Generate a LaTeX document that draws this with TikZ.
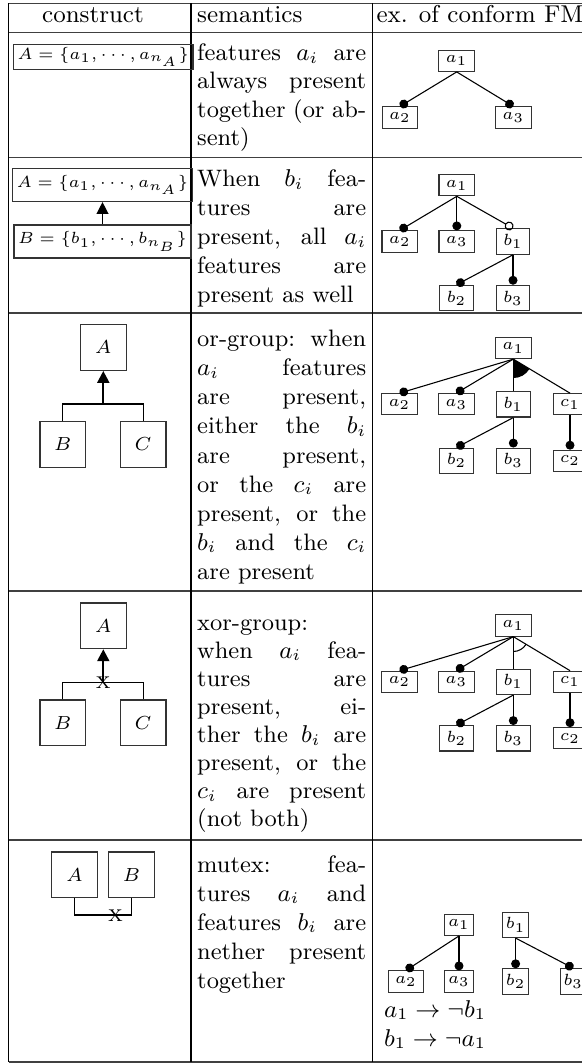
\documentclass[tikz,border=0pt]{standalone}
\usetikzlibrary{arrows.meta}
\newcommand{\jline}[3]{\node[txt] (#1) at (196.7,#2) {\makebox[62.5pt][s]{#3}};}
\newcommand{\lline}[3]{\node[txt] (#1) at (196.7,#2) {#3};}
\begin{document}
\begin{tikzpicture}[x=0.37pt,y=-0.37pt,
  rv/.style={draw=black, line width=0.45pt},
  rh/.style={draw=black!75, line width=0.45pt},
  txt/.style={anchor=base west, inner sep=0pt, font=\fontsize{8.8}{10.6}\selectfont},
  hd/.style={inner sep=0pt, font=\fontsize{9}{11}\selectfont},
  tn/.style={draw=black!80, line width=0.4pt, font=\fontsize{6.5}{7}\selectfont, inner xsep=2.6pt, inner ysep=2.05pt},
  tns/.style={tn, inner xsep=1.3pt},
  setbox/.style={draw=black!80, line width=0.45pt, font=\fontsize{6.1}{7.3}\selectfont, inner xsep=1.5pt, inner ysep=1pt},
  setboxb/.style={setbox, inner ysep=2.5pt},
  sq/.style={draw=black!80, line width=0.45pt, minimum size=16.9pt, inner sep=0pt, font=\fontsize{6.8}{8}\selectfont},
  dot/.style={-{Circle[length=3.3pt]}, line width=0.4pt},
  odot/.style={-{Circle[open,length=3.3pt]}, line width=0.4pt},
  pl/.style={line width=0.4pt},
  tri/.style={-{Triangle[length=4.4pt,width=4.4pt]}},
  xl/.style={inner sep=0pt, font=\fontsize{6.3}{7}\selectfont}
]
\useasboundingbox (0,0) rectangle (582,1064);
% table rules
\foreach \yy in {3.5,32.3,157.7,313,591,840,1062} \draw[rh] (8.5,\yy) -- (582,\yy);
\foreach \xx in {8.5,191,372.3} \draw[rv] (\xx,3.5) -- (\xx,1062);
% header
\node[hd, anchor=base] (h1) at (93,23) {construct};
\node[hd, anchor=base west] (h2) at (196.7,23) {semantics};
\node[hd, anchor=base west] (h3) at (376,23) {ex. of conform FM};
% ---- column 1 ----
\node[setbox] (c1set) at (103.3,56.7) {$A=\{a_1,\cdots,a_{n_A}\}$};
\node[setboxb] (c2A) at (102.5,185) {$A=\{a_1,\cdots,a_{n_A}\}$};
\node[setboxb] (c2B) at (102.5,241.5) {$B=\{b_1,\cdots,b_{n_B}\}$};
\draw[tri, line width=0.5pt] (c2B) -- (c2A);
% row 3
\node[sq] (c3A) at (103.3,347.5) {$A$};
\node[sq] (c3B) at (62.85,444.5) {$B$};
\node[sq] (c3C) at (143.15,444.5) {$C$};
\coordinate (c3j) at (103.3,404);
\draw[pl] (c3B.north) |- (c3j) -| (c3C.north);
\draw[tri, line width=0.8pt] (c3j) -- (c3A.south);
% row 4
\node[sq] (c4A) at (103.3,625.8) {$A$};
\node[sq] (c4B) at (62.85,722.9) {$B$};
\node[sq] (c4C) at (143.15,722.9) {$C$};
\coordinate (c4j) at (103.3,682.7);
\draw[pl] (c4B.north) |- (c4j) -| (c4C.north);
\draw[tri, line width=0.8pt] (c4j) -- (c4A.south);
\node[xl] (c4x) at (c4j) {X};
% row 5
\node[sq] (c5A) at (74.5,874.8) {$A$};
\node[sq] (c5B) at (131.6,874.8) {$B$};
\coordinate (c5j) at (103,915);
\draw[pl] (c5A.south) |- (c5j) -| (c5B.south);
\node[xl] (c5x) at (115.5,915.5) {X};
% ---- column 2 ----
\jline{s1a}{60.7}{features $a_i$ are}
\jline{s1b}{89}{always present}
\jline{s1c}{117.3}{together (or ab-}
\lline{s1d}{145.7}{sent)}
\jline{s2a}{187}{When $b_i$ fea-}
\jline{s2b}{216}{tures are}
\jline{s2c}{245}{present, all $a_i$}
\jline{s2d}{274}{features are}
\lline{s2e}{303}{present as well}
\jline{s3a}{347}{or-group: when}
\jline{s3b}{376}{$a_i$ features}
\jline{s3c}{405}{are present,}
\jline{s3d}{434}{either the $b_i$}
\jline{s3e}{463}{are present,}
\jline{s3f}{492}{or the $c_i$ are}
\jline{s3g}{521}{present, or the}
\jline{s3h}{550}{$b_i$ and the $c_i$}
\lline{s3i}{579}{are present}
\lline{s4a}{630}{xor-group:}
\jline{s4b}{658.1}{when $a_i$ fea-}
\jline{s4c}{686.2}{tures are}
\jline{s4d}{714.3}{present, ei-}
\jline{s4e}{742.4}{ther the $b_i$ are}
\jline{s4f}{770.5}{present, or the}
\jline{s4g}{798.6}{$c_i$ are present}
\lline{s4h}{826.7}{(not both)}
\jline{s5a}{872}{mutex: fea-}
\jline{s5b}{901}{tures $a_i$ and}
\jline{s5c}{930}{features $b_i$ are}
\jline{s5d}{959}{nether present}
\lline{s5e}{988}{together}
% ---- column 3 ----
% row 1
\node[tn] (t1a1) at (456.7,60.8) {$a_1$};
\node[tn] (t1a2) at (400,117.5) {$a_2$};
\node[tn] (t1a3) at (513.3,117.5) {$a_3$};
\draw[dot] (t1a1.south) -- (t1a2.north);
\draw[dot] (t1a1.south) -- (t1a3.north);
% row 2
\node[tn] (t2a1) at (456.8,185.2) {$a_1$};
\node[tn] (t2a2) at (399.8,241.5) {$a_2$};
\node[tn] (t2a3) at (456.8,241.5) {$a_3$};
\node[tn] (t2b1) at (513,241.5) {$b_1$};
\node[tn] (t2b2) at (456.5,298) {$b_2$};
\node[tn] (t2b3) at (513,298) {$b_3$};
\draw[dot] (t2a1.south) -- (t2a2.north);
\draw[dot] (t2a1.south) -- (t2a3.north);
\draw[odot] (t2a1.south) -- (t2b1.north);
\draw[dot] (t2b1.south) -- (t2b2.north);
\draw[dot] (t2b1.south) -- (t2b3.north);
% row 3
\node[tn] (t3a1) at (513.3,348) {$a_1$};
\node[tn] (t3a2) at (399.5,404.3) {$a_2$};
\node[tn] (t3a3) at (456.3,404.3) {$a_3$};
\node[tn] (t3b1) at (513.3,404.3) {$b_1$};
\node[tn] (t3c1) at (570,404.3) {$c_1$};
\node[tn] (t3b2) at (456.5,460.8) {$b_2$};
\node[tn] (t3b3) at (513.3,460.8) {$b_3$};
\node[tn] (t3c2) at (570,460.8) {$c_2$};
\fill (t3a1.south) -- ++(-90:7pt) arc[start angle=-90, end angle=-31, radius=7pt] -- cycle;
\draw[dot] (t3a1.south) -- (t3a2.north);
\draw[dot] (t3a1.south) -- (t3a3.north);
\draw[pl] (t3a1.south) -- (t3b1.north);
\draw[pl] (t3a1.south) -- (t3c1.north);
\draw[dot] (t3b1.south) -- (t3b2.north);
\draw[dot] (t3b1.south) -- (t3b3.north);
\draw[dot] (t3c1.south) -- (t3c2.north);
% row 4
\node[tn] (t4a1) at (513.3,625.5) {$a_1$};
\node[tn] (t4a2) at (399.5,681.8) {$a_2$};
\node[tn] (t4a3) at (456.3,681.8) {$a_3$};
\node[tn] (t4b1) at (513.3,681.8) {$b_1$};
\node[tn] (t4c1) at (570,681.8) {$c_1$};
\node[tn] (t4b2) at (456.5,738.3) {$b_2$};
\node[tn] (t4b3) at (513.3,738.3) {$b_3$};
\node[tn] (t4c2) at (570,738.3) {$c_2$};
\draw[pl] (t4a1.south) ++(-90:5.5pt) arc[start angle=-90, end angle=-31, radius=5.5pt];
\draw[dot] (t4a1.south) -- (t4a2.north);
\draw[dot] (t4a1.south) -- (t4a3.north);
\draw[pl] (t4a1.south) -- (t4b1.north);
\draw[pl] (t4a1.south) -- (t4c1.north);
\draw[dot] (t4b1.south) -- (t4b2.north);
\draw[dot] (t4b1.south) -- (t4b3.north);
\draw[dot] (t4c1.south) -- (t4c2.north);
% row 5
\node[tns] (t5a1) at (459,924.8) {$a_1$};
\node[tn] (t5a2) at (406,981.5) {$a_2$};
\node[tns] (t5a3) at (459,981.5) {$a_3$};
\node[tns] (t5b1) at (515.6,924.8) {$b_1$};
\node[tns] (t5b2) at (515.6,981.5) {$b_2$};
\node[tns] (t5b3) at (573.3,981.5) {$b_3$};
\draw[dot] (t5a1.south) -- (t5a2.north);
\draw[dot] (t5a1.south) -- (t5a3.north);
\draw[dot] (t5b1.south) -- (t5b2.north);
\draw[dot] (t5b1.south) -- (t5b3.north);
\node[anchor=base west, inner sep=0pt, font=\fontsize{9.2}{11}\selectfont] (f1) at (383.5,1017) {$a_1\rightarrow\neg b_1$};
\node[anchor=base west, inner sep=0pt, font=\fontsize{9.2}{11}\selectfont] (f2) at (383.5,1046) {$b_1\rightarrow\neg a_1$};
\end{tikzpicture}
\end{document}
